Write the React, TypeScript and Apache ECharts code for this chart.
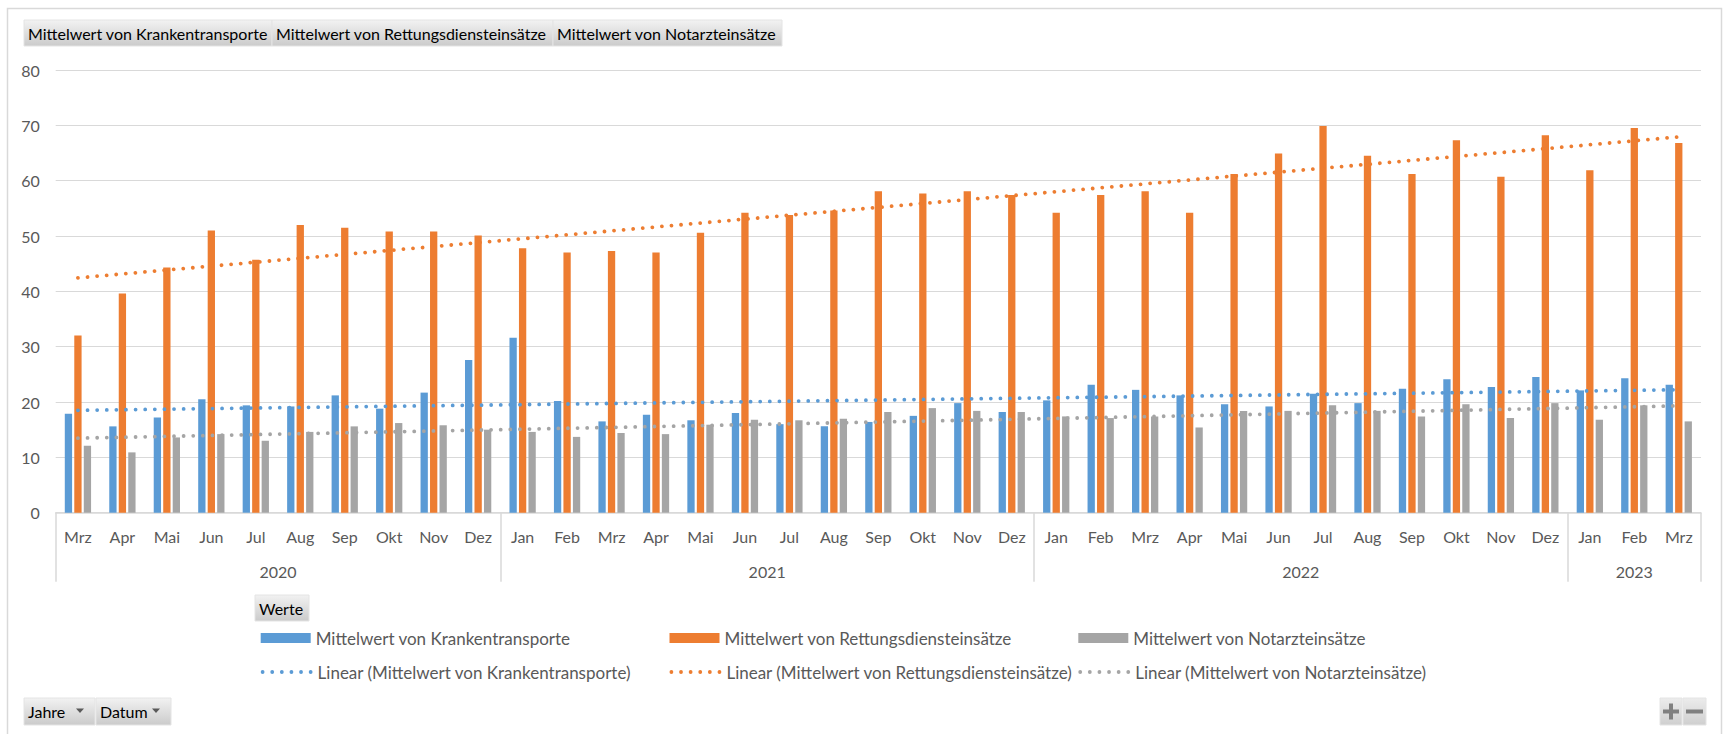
import React, { useEffect, useRef } from "react";
import * as echarts from "echarts";

// ---------- data ----------
const months = [
  "Mrz", "Apr", "Mai", "Jun", "Jul", "Aug", "Sep", "Okt", "Nov", "Dez",
  "Jan", "Feb", "Mrz", "Apr", "Mai", "Jun", "Jul", "Aug", "Sep", "Okt", "Nov", "Dez",
  "Jan", "Feb", "Mrz", "Apr", "Mai", "Jun", "Jul", "Aug", "Sep", "Okt", "Nov", "Dez",
  "Jan", "Feb", "Mrz",
];
const years = ["2020", "2021", "2022", "2023"];
const monthsPerYear = [10, 12, 12, 3];

const nameK = "Mittelwert von Krankentransporte";
const nameR = "Mittelwert von Rettungsdiensteinsätze";
const nameN = "Mittelwert von Notarzteinsätze";

const kranken = [
  17.9, 15.6, 17.2, 20.5, 19.4, 19.2, 21.2, 18.8, 21.7, 27.6,
  31.6, 20.2, 16.5, 17.7, 16.7, 18.0, 16.0, 15.6, 16.4, 17.5, 19.8, 18.2,
  20.3, 23.1, 22.2, 21.2, 19.6, 19.2, 21.5, 19.8, 22.4, 24.1, 22.7, 24.5,
  22.1, 24.3, 23.1,
];
const rettung = [
  32.0, 39.6, 44.3, 51.0, 45.7, 52.0, 51.5, 50.8, 50.8, 50.1,
  47.8, 47.0, 47.3, 47.0, 50.6, 54.2, 53.8, 54.6, 58.1, 57.7, 58.1, 57.4,
  54.2, 57.4, 58.1, 54.2, 61.2, 64.9, 69.9, 64.5, 61.2, 67.3, 60.7, 68.2,
  61.9, 69.5, 66.8,
];
const notarzt = [
  12.1, 10.9, 13.6, 14.2, 13.0, 14.6, 15.6, 16.2, 15.8, 15.0,
  14.6, 13.7, 14.4, 14.2, 15.9, 16.8, 16.7, 17.0, 18.2, 18.9, 18.4, 18.2,
  17.4, 17.1, 17.4, 15.4, 18.4, 18.4, 19.4, 18.4, 17.4, 19.6, 17.1, 19.8,
  16.8, 19.4, 16.5,
];

const yMin = 0;
const yMax = 80;
const yInterval = 10;

const colors = { k: "#5B9BD5", r: "#ED7D31", n: "#A5A5A5" };
const FONT = "Lato, 'Open Sans', sans-serif";
const AXIS_TEXT = "#595959";
const GRID_LINE = "#d9d9d9";

// least-squares linear trendline (what Excel's "Linear" trendline is)
function linearTrend(v: number[]): number[] {
  const n = v.length;
  let sx = 0, sy = 0, sxx = 0, sxy = 0;
  v.forEach((y, i) => { sx += i; sy += y; sxx += i * i; sxy += i * y; });
  const b = (n * sxy - sx * sy) / (n * sxx - sx * sx);
  const a = (sy - b * sx) / n;
  return v.map((_, i) => +(a + b * i).toFixed(3));
}

// year group boundaries / centres in category-index units
const yearBounds: number[] = [-0.5];
const yearCenters: number[] = [];
{
  let start = 0;
  monthsPerYear.forEach((c) => {
    yearCenters.push(start + (c - 1) / 2);
    start += c;
    yearBounds.push(start - 0.5);
  });
}

function makeButton(x: number, y: number, w: number, h: number, label: string, fontSize: number, arrow?: boolean) {
  const children: any[] = [
    {
      type: "rect",
      shape: { x, y, width: w, height: h },
      style: {
        fill: new echarts.graphic.LinearGradient(0, 0, 0, 1, [
          { offset: 0, color: "#f2f2f2" },
          { offset: 1, color: "#cbcbcb" },
        ]),
        stroke: "#e4e4e4",
        lineWidth: 1,
      },
    },
    {
      type: "text",
      x: x + 4,
      y: y + h / 2,
      style: { text: label, fill: "#000000", fontSize, fontFamily: FONT, verticalAlign: "middle" },
    },
  ];
  if (arrow) {
    const ax = x + w - 15;
    const ay = y + h / 2 - 1;
    children.push({
      type: "polygon",
      shape: { points: [[ax - 4, ay - 2], [ax + 4, ay - 2], [ax, ay + 2.5]] },
      style: { fill: "#595959" },
    });
  }
  return { type: "group", silent: true, children };
}

export default function App() {
  const ref = useRef<HTMLDivElement>(null);

  useEffect(() => {
    if (!ref.current) return;
    const chart = echarts.init(ref.current, undefined, { renderer: "svg" });

    const trendStyle = (color: string) => ({
      color,
      width: 3.8,
      type: [0.01, 9.6] as any,
      cap: "round" as any,
    });

    const legendBase = {
      padding: 0,
      itemWidth: 50,
      itemHeight: 10,
      selectedMode: false,
      textStyle: { fontSize: 17, color: AXIS_TEXT, fontFamily: FONT },
    };
    const colX = [260.7, 669.5, 1078.3];
    const row1 = 629.5;
    const row2 = 663.5;
    const lineLegendStyle = { width: 3.8, type: [0.01, 9.6], cap: "round", opacity: 1 };
    const hiddenSymbol = { opacity: 0 };

    const trendNames = [
      "Linear (" + nameK + ")",
      "Linear (" + nameR + ")",
      "Linear (" + nameN + ")",
    ];

    const option: any = {
      animation: false,
      backgroundColor: "#ffffff",
      textStyle: { fontFamily: FONT },
      grid: { left: 55.7, right: 26, top: 70, bottom: 221.3, containLabel: false },
      xAxis: [
        {
          type: "category",
          data: months,
          axisLine: { lineStyle: { color: GRID_LINE, width: 1.5 } },
          axisTick: { show: false },
          axisLabel: { interval: 0, margin: 16, fontSize: 16, color: AXIS_TEXT, fontFamily: FONT },
        },
        {
          type: "value",
          position: "bottom",
          min: -0.5,
          max: 36.5,
          axisLine: { show: false },
          splitLine: { show: false },
          axisTick: {
            show: true,
            customValues: yearBounds,
            length: 69,
            lineStyle: { color: GRID_LINE, width: 1.5 },
          },
          axisLabel: {
            customValues: yearCenters,
            margin: 51,
            fontSize: 16,
            color: AXIS_TEXT,
            fontFamily: FONT,
            formatter: (v: number) => {
              const i = yearCenters.findIndex((c) => Math.abs(c - v) < 1e-6);
              return i >= 0 ? years[i] : "";
            },
          },
        },
      ],
      yAxis: {
        type: "value",
        min: yMin,
        max: yMax,
        interval: yInterval,
        axisLine: { show: false },
        axisTick: { show: false },
        axisLabel: { margin: 16, fontSize: 16, color: AXIS_TEXT, fontFamily: FONT },
        splitLine: { lineStyle: { color: GRID_LINE, width: 1 } },
      },
      legend: [
        { ...legendBase, data: [{ name: nameK, icon: "rect" }], left: colX[0], top: row1 },
        { ...legendBase, data: [{ name: nameR, icon: "rect" }], left: colX[1], top: row1 },
        { ...legendBase, data: [{ name: nameN, icon: "rect" }], left: colX[2], top: row1 },
        { ...legendBase, data: [trendNames[0]], left: colX[0], top: row2, lineStyle: lineLegendStyle, itemStyle: hiddenSymbol },
        { ...legendBase, data: [trendNames[1]], left: colX[1], top: row2, lineStyle: lineLegendStyle, itemStyle: hiddenSymbol },
        { ...legendBase, data: [trendNames[2]], left: colX[2], top: row2, lineStyle: lineLegendStyle, itemStyle: hiddenSymbol },
      ],
      series: [
        { name: nameK, type: "bar", data: kranken, barWidth: 7.3, barGap: "30%", itemStyle: { color: colors.k } },
        { name: nameR, type: "bar", data: rettung, barWidth: 7.3, barGap: "30%", itemStyle: { color: colors.r } },
        { name: nameN, type: "bar", data: notarzt, barWidth: 7.3, barGap: "30%", itemStyle: { color: colors.n } },
        {
          name: trendNames[0], type: "line", data: linearTrend(kranken), symbol: "none", z: 5,
          lineStyle: trendStyle(colors.k), itemStyle: { color: colors.k },
        },
        {
          name: trendNames[1], type: "line", data: linearTrend(rettung), symbol: "none", z: 5,
          lineStyle: trendStyle(colors.r), itemStyle: { color: colors.r },
        },
        {
          name: trendNames[2], type: "line", data: linearTrend(notarzt), symbol: "none", z: 5,
          lineStyle: trendStyle(colors.n), itemStyle: { color: colors.n },
        },
      ],
      graphic: [
        {
          type: "rect",
          silent: true,
          z: -10,
          shape: { x: 7.5, y: 8.5, width: 1714, height: 740 },
          style: { fill: "none", stroke: "#d9d9d9", lineWidth: 1.5 },
        },
        makeButton(24, 20, 248, 26, nameK, 16),
        makeButton(272, 20, 281, 26, nameR, 16),
        makeButton(553, 20, 229, 26, nameN, 16),
        makeButton(255, 595, 54, 26, "Werte", 16),
        makeButton(24, 698, 71, 27, "Jahre", 16, true),
        makeButton(96, 698, 75, 27, "Datum", 16, true),
        {
          type: "group",
          silent: true,
          children: [
            {
              type: "rect",
              shape: { x: 1660, y: 698, width: 22, height: 27 },
              style: {
                fill: new echarts.graphic.LinearGradient(0, 0, 0, 1, [
                  { offset: 0, color: "#ececec" },
                  { offset: 1, color: "#cfcfcf" },
                ]),
                stroke: "#e4e4e4",
              },
            },
            {
              type: "rect",
              shape: { x: 1683, y: 698, width: 23, height: 27 },
              style: {
                fill: new echarts.graphic.LinearGradient(0, 0, 0, 1, [
                  { offset: 0, color: "#ececec" },
                  { offset: 1, color: "#cfcfcf" },
                ]),
                stroke: "#e4e4e4",
              },
            },
            { type: "rect", shape: { x: 1663, y: 709.5, width: 16, height: 4 }, style: { fill: "#808080" } },
            { type: "rect", shape: { x: 1669, y: 703.5, width: 4, height: 16 }, style: { fill: "#808080" } },
            { type: "rect", shape: { x: 1686, y: 709.5, width: 17, height: 4 }, style: { fill: "#808080" } },
          ],
        },
      ],
    };

    chart.setOption(option);
    return () => chart.dispose();
  }, []);

  return (
    <div
      ref={ref}
      style={{ position: "fixed", left: 0, top: 0, width: 1727, height: 734, background: "#fff" }}
    />
  );
}
